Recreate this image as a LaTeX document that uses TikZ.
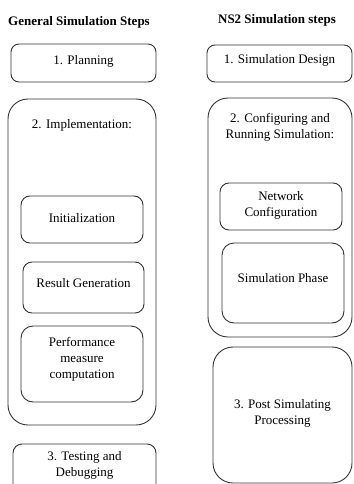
\documentclass[tikz,border=0pt]{standalone}
\usepackage{fontspec}
\setmainfont{Liberation Serif}
\begin{document}
\begin{tikzpicture}[x=1pt,y=-1pt,
  box/.style={draw=black!80, line width=0.9pt, rectangle, inner sep=0pt},
  txt/.style={font=\fontsize{13}{16}\selectfont, align=center, inner sep=0pt},
  ttl/.style={font=\fontsize{13}{16}\selectfont\bfseries, inner sep=0pt}]
\useasboundingbox (0,0) rectangle (353,484);
\clip (0,0) rectangle (353,484);
% left column
\node[ttl] (t1) at (79,22) {General Simulation Steps};
\node[box, rounded corners=8pt, minimum width=145pt, minimum height=38pt] (plan) at (83.5,63) {};
\node[txt] (plant) at (83.5,61) {1. Planning};
\node[box, rounded corners=20pt, minimum width=148pt, minimum height=326pt] (impl) at (82,262) {};
\node[txt] (implt) at (82,125) {2. Implementation:};
\node[box, rounded corners=9pt, minimum width=122pt, minimum height=47pt] (init) at (82,219.5) {};
\node[txt] (initt) at (82,218) {Initialization};
\node[box, rounded corners=9pt, minimum width=121pt, minimum height=51pt] (res) at (83.5,287.5) {};
\node[txt] (rest) at (83.5,283) {Result Generation};
\node[box, rounded corners=12pt, minimum width=122pt, minimum height=76pt] (perf) at (82,364) {};
\node[txt] (perft) at (82,359) {Performance\\measure\\computation};
\node[box, rounded corners=9pt, minimum width=143pt, minimum height=60pt] (test) at (84.5,474) {};
\node[txt] (testt) at (84.5,465.5) {3. Testing and\\Debugging};
% right column
\node[ttl] (t2) at (277,20) {NS2 Simulation steps};
\node[box, rounded corners=8pt, minimum width=145pt, minimum height=37pt] (des) at (279.5,63.5) {};
\node[txt] (dest) at (279.5,60) {1. Simulation Design};
\node[box, rounded corners=20pt, minimum width=144pt, minimum height=239pt] (conf) at (280,217.5) {};
\node[txt] (conft) at (280,127.5) {2. Configuring and\\Running Simulation:};
\node[box, rounded corners=9pt, minimum width=122pt, minimum height=47pt] (net) at (281,206.5) {};
\node[txt] (nett) at (281,205) {Network\\Configuration};
\node[box, rounded corners=12pt, minimum width=122pt, minimum height=80pt] (sim) at (283,283) {};
\node[txt] (simt) at (283,278) {Simulation Phase};
\node[box, rounded corners=20pt, minimum width=139pt, minimum height=136pt] (post) at (282.5,415) {};
\node[txt] (postt) at (282.5,413.5) {3. Post Simulating\\Processing};
\end{tikzpicture}
\end{document}
